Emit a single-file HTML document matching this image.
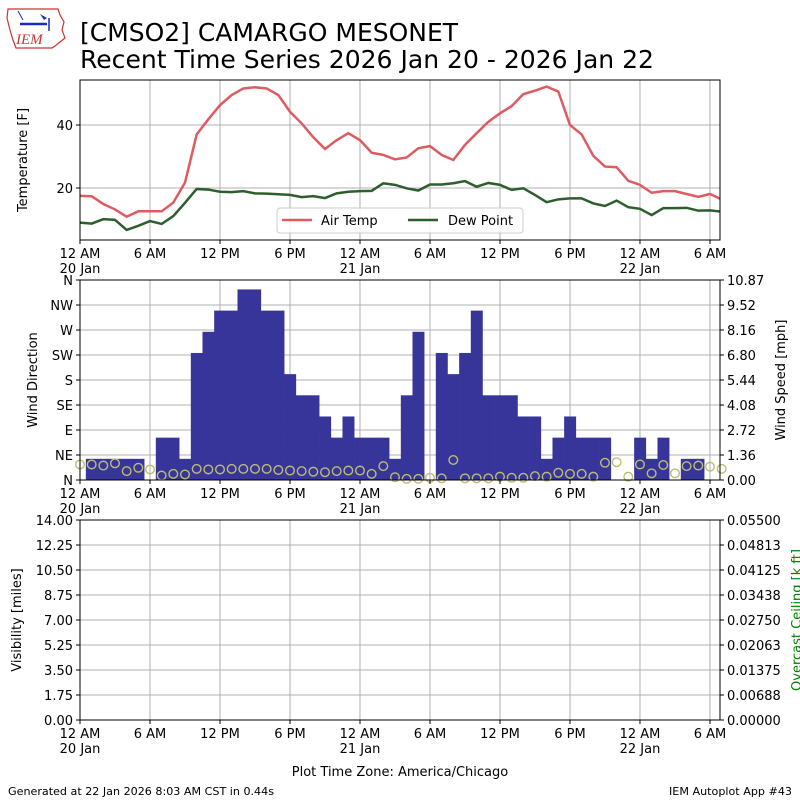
<!DOCTYPE html>
<html><head><meta charset="utf-8">
<style>
html,body{margin:0;padding:0;background:#fff;}
svg{display:block;font-family:"DejaVu Sans","Liberation Sans",sans-serif;}
</style></head>
<body>
<svg id="chart" width="800" height="800" viewBox="0 0 800 800" xmlns="http://www.w3.org/2000/svg">
  <rect x="0" y="0" width="800" height="800" fill="#fff"/>
  <g>
    <path d="M8 9 L58 9 L60 15 L64 22 L62 30 L65 38 L55 46 L52 48 L16 48 L13 40 L10 30 L7 18 Z" fill="none" stroke="#c33" stroke-width="1.2"/>
    <line x1="20" y1="24" x2="47" y2="24" stroke="#1a2bbf" stroke-width="2.5"/>
    <line x1="18" y1="11" x2="23" y2="20" stroke="#1a2bbf" stroke-width="1"/>
    <path d="M40 14 L47 18 L44 20 Z" fill="#1a2bbf"/>
    <line x1="49" y1="18" x2="49" y2="31" stroke="#1a2bbf" stroke-width="1.5"/>
    <text x="16" y="44" font-family="Liberation Serif,serif" font-style="italic" font-size="15" fill="#c33">IEM</text>
  </g>
  <text x="80" y="41" font-size="25" textLength="378" lengthAdjust="spacingAndGlyphs">[CMSO2] CAMARGO MESONET</text>
  <text x="80" y="68" font-size="25" textLength="574" lengthAdjust="spacingAndGlyphs">Recent Time Series 2026 Jan 20 - 2026 Jan 22</text>
  <g id="p1"></g>
  <g id="p2"></g>
  <g id="p3"></g>
  <text x="400" y="776" font-size="13" text-anchor="middle">Plot Time Zone: America/Chicago</text>
  <text x="8" y="795" font-size="11" textLength="266" lengthAdjust="spacingAndGlyphs">Generated at 22 Jan 2026 8:03 AM CST in 0.44s</text>
  <text x="669" y="795" font-size="11" textLength="123" lengthAdjust="spacingAndGlyphs">IEM Autoplot App #43</text>
</svg>
<script>
const airTemp = [17.5,17.4,14.9,13.2,10.9,12.6,12.6,12.6,15.4,21.7,37,41.8,46.3,49.5,51.6,52,51.6,49.5,44.2,40.5,36.1,32.4,35.2,37.4,35.2,31.2,30.5,29.1,29.7,32.6,33.3,30.5,28.9,33.7,37.4,41,43.7,46,49.8,50.9,52.2,50.6,40,37,30.2,26.8,26.6,22.3,21,18.5,19,19,18.1,17.2,18.1,16.4];
const dewPoint = [9,8.7,10.1,9.9,6.7,8,9.5,8.6,11.1,15.3,19.7,19.5,18.8,18.7,19,18.3,18.2,18,17.8,17.1,17.4,16.8,18.3,18.8,19,19.1,21.5,21,19.9,19.2,21.1,21.1,21.5,22.2,20.4,21.6,21,19.4,19.9,17.8,15.5,16.4,16.7,16.7,15.1,14.3,16,13.9,13.4,11.4,13.6,13.6,13.7,12.8,12.9,12.5];
const windKnots = [0,1,1,1,1,1,0,2,2,1,6,7,8,8,9,9,8,8,5,4,4,3,2,3,2,2,2,1,4,7,0,6,5,6,8,4,4,4,3,3,1,2,3,2,2,2,0,0,2,1,2,0,1,1,0];
const windDir = [28,28,26,30,16,22,19,8,11,10,20,19,19,20,20,20,20,18,17,16,15,14,16,17,17,11,25,5,2,2,4,3,36,3,3,3,6,4,4,7,6,13,11,11,6,31,32,6,28,12,27,12,25,26,24,20];
const dirLabels = ["N","NE","E","SE","S","SW","W","NW","N"];
const speedLabels = ["0.00","1.36","2.72","4.08","5.44","6.80","8.16","9.52","10.87"];
const visLabels = ["0.00","1.75","3.50","5.25","7.00","8.75","10.50","12.25","14.00"];
const ceilLabels = ["0.00000","0.00688","0.01375","0.02063","0.02750","0.03438","0.04125","0.04813","0.05500"];
const tempTicks = [20,40];
const xTickHours = [0,6,12,18,24,30,36,42,48,54];
const xTickLabels = ["12 AM","6 AM","12 PM","6 PM","12 AM","6 AM","12 PM","6 PM","12 AM","6 AM"];
const xTickDates = ["20 Jan","","","","21 Jan","","","","22 Jan",""];

const NS="http://www.w3.org/2000/svg";
const X0=80,X1=720,HMAX=54.86;
const x=h=>X0+(h/HMAX)*(X1-X0);
function el(tag,attrs,parent,text){const e=document.createElementNS(NS,tag);for(const k in attrs)e.setAttribute(k,attrs[k]);if(text!==undefined)e.textContent=text;parent.appendChild(e);return e;}

function xAxis(g,yb){
  xTickHours.forEach((h,i)=>{
    const t=el('line',{x1:x(h),x2:x(h),y1:yb,y2:yb+4,stroke:'#000'},g);
    
    
    const l=el('text',{x:x(h),y:yb+18,'font-size':13,'text-anchor':'middle'},g,xTickLabels[i]);
    
    
    if(xTickDates[i]){const d=el('text',{x:x(h),y:yb+33,'font-size':13,'text-anchor':'middle'},g,xTickDates[i]);
      
      }
  });
}
function vGrid(g,yt,yb){xTickHours.forEach(h=>el('line',{x1:x(h),x2:x(h),y1:yt,y2:yb,stroke:'#b0b0b0','stroke-width':1},g));}

// Panel 1
(function(){
  const g=document.getElementById('p1');const YT=80,YB=240;
  const yT=v=>125-(v-40)*3.15;
  vGrid(g,YT,YB);
  tempTicks.forEach(v=>{el('line',{x1:X0,x2:X1,y1:yT(v),y2:yT(v),stroke:'#b0b0b0'},g);
    el('line',{x1:X0-4,x2:X0,y1:yT(v),y2:yT(v),stroke:'#000'},g);
    const l=el('text',{x:X0-7,y:yT(v)+5,'font-size':13,'text-anchor':'end'},g,String(v));
    
    });
  el('clipPath',{id:'c1'},g);el('rect',{x:X0,y:YT,width:X1-X0,height:YB-YT},g.lastChild);
  const pts=a=>a.map((v,i)=>x(i)+','+yT(v)).join(' ');
  const at=el('polyline',{points:pts(airTemp),fill:'none',stroke:'#dd5c61','stroke-width':2.5,'clip-path':'url(#c1)'},g);
  
  
  const dp=el('polyline',{points:pts(dewPoint),fill:'none',stroke:'#2e5e2e','stroke-width':2.5,'clip-path':'url(#c1)'},g);
  
  
  el('rect',{x:X0,y:YT,width:X1-X0,height:YB-YT,fill:'none',stroke:'#000'},g);
  const yl=el('text',{x:27,y:160,'font-size':13,'text-anchor':'middle',transform:'rotate(-90 27 160)'},g,'Temperature [F]');
  
  
  const lg=el('g',{},g);
  
  
  el('rect',{x:277,y:208,width:246,height:25,rx:3,fill:'#fff','fill-opacity':0.85,stroke:'#ccc'},lg);
  el('line',{x1:282,x2:312,y1:220,y2:220,stroke:'#dd5c61','stroke-width':2.5},lg);
  el('text',{x:321,y:225,'font-size':13},lg,'Air Temp');
  el('line',{x1:408,x2:438,y1:220,y2:220,stroke:'#2e5e2e','stroke-width':2.5},lg);
  el('text',{x:448,y:225,'font-size':13},lg,'Dew Point');
  xAxis(g,YB);
})();

// Panel 2
(function(){
  const g=document.getElementById('p2');const YT=280,YB=480;
  const yS=v=>YB-(v/10.87)*200;
  const yD=d=>YB-(d/360)*200;
  vGrid(g,YT,YB);
  dirLabels.forEach((s,i)=>{const y=YB-i*25;
    el('line',{x1:X0,x2:X1,y1:y,y2:y,stroke:'#b0b0b0'},g);
    el('line',{x1:X0-4,x2:X0,y1:y,y2:y,stroke:'#000'},g);
    const l=el('text',{x:X0-7,y:y+5,'font-size':13,'text-anchor':'end'},g,s);
    
    
    el('line',{x1:X1,x2:X1+4,y1:y,y2:y,stroke:'#000'},g);
    const r=el('text',{x:X1+7,y:y+5,'font-size':13},g,speedLabels[i]);
    
    });
  const bw=x(1)-x(0);
  windKnots.forEach((k,i)=>{if(!k)return;const v=k*1.1508;
    const b=el('rect',{x:x(i)-bw/2,y:yS(v),width:bw+0.3,height:YB-yS(v),fill:'#373599'},g);
    
    });
  windDir.forEach((d,i)=>{
    const c=el('circle',{cx:x(i),cy:yD(d),r:4.3,fill:'none',stroke:'#bdbd72','stroke-width':1.4},g);
    
    });
  el('rect',{x:X0,y:YT,width:X1-X0,height:YB-YT,fill:'none',stroke:'#000'},g);
  const yl=el('text',{x:37,y:380,'font-size':13,'text-anchor':'middle',transform:'rotate(-90 37 380)'},g,'Wind Direction');
  
  
  const yr=el('text',{x:785,y:380,'font-size':13,'text-anchor':'middle',transform:'rotate(-90 785 380)'},g,'Wind Speed [mph]');
  
  
  xAxis(g,YB);
})();

// Panel 3
(function(){
  const g=document.getElementById('p3');const YT=520,YB=720;
  vGrid(g,YT,YB);
  visLabels.forEach((s,i)=>{const y=YB-i*25;
    el('line',{x1:X0,x2:X1,y1:y,y2:y,stroke:'#b0b0b0'},g);
    el('line',{x1:X0-4,x2:X0,y1:y,y2:y,stroke:'#000'},g);
    const l=el('text',{x:X0-7,y:y+5,'font-size':13,'text-anchor':'end'},g,s);
    
    
    el('line',{x1:X1,x2:X1+4,y1:y,y2:y,stroke:'#000'},g);
    const r=el('text',{x:X1+7,y:y+5,'font-size':13},g,ceilLabels[i]);
    
    });
  el('rect',{x:X0,y:YT,width:X1-X0,height:YB-YT,fill:'none',stroke:'#000'},g);
  const yl=el('text',{x:21,y:620,'font-size':13,'text-anchor':'middle',transform:'rotate(-90 21 620)'},g,'Visibility [miles]');
  
  
  const yr=el('text',{x:801,y:620,'font-size':13,'text-anchor':'middle',fill:'green',transform:'rotate(-90 801 620)'},g,'Overcast Ceiling [k ft]');
  
  
  xAxis(g,YB);
})();
</script>
</body></html>
